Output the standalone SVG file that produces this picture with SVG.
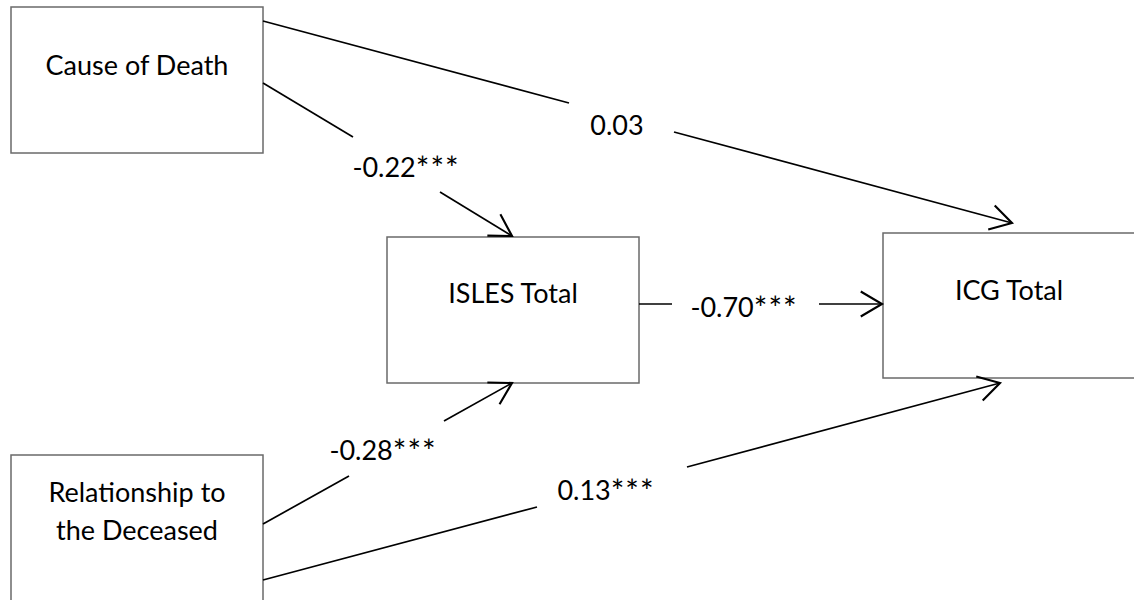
<svg xmlns="http://www.w3.org/2000/svg" width="1134" height="600" viewBox="0 0 1134 600">
<style>
.box{fill:#fff;stroke:#6a6a6a;stroke-width:1.5}
.lbl{font-family:Lato,"Open Sans","Liberation Sans",sans-serif;font-size:27px;fill:#000;text-anchor:middle}
.num{font-family:Lato,"Open Sans","Liberation Sans",sans-serif;font-size:27px;fill:#000;text-anchor:middle}
.ast{font-size:32px;letter-spacing:1px}
.ln{stroke:#000;stroke-width:1.7;fill:none}
</style>
<defs>
<marker id="arr" markerUnits="userSpaceOnUse" markerWidth="30" markerHeight="30" viewBox="-20 -12 24 24" refX="0" refY="0" orient="auto">
<path d="M-17,-10 L0,0 L-17,10" fill="none" stroke="#000" stroke-width="1.7"/>
</marker>
</defs>
<rect width="1134" height="600" fill="#fff"/>
<g id="cause">
<rect class="box" x="11" y="7" width="252" height="146"/>
<text class="lbl" x="137" y="75">Cause of Death</text>
</g>
<g id="isles">
<rect class="box" x="387" y="237" width="252" height="146"/>
<text class="lbl" x="513" y="303">ISLES Total</text>
</g>
<g id="icg">
<rect class="box" x="883" y="233" width="260" height="145"/>
<text class="lbl" x="1009" y="300">ICG Total</text>
</g>
<g id="relationship">
<rect class="box" x="11" y="455" width="252" height="160"/>
<text class="lbl" x="137" y="502">Relationship to</text>
<text class="lbl" x="137" y="540">the Deceased</text>
</g>
<g id="connectors">
<line class="ln" x1="263" y1="21" x2="569" y2="103"/>
<line class="ln" x1="674" y1="132" x2="1012" y2="223" marker-end="url(#arr)"/>
<text class="num" x="617" y="135">0.03</text>
<line class="ln" x1="263" y1="83" x2="353" y2="137"/>
<line class="ln" x1="440" y1="192" x2="512" y2="236" marker-end="url(#arr)"/>
<text class="num" x="406" y="177">-0.22<tspan class="ast" dy="3">***</tspan></text>
<line class="ln" x1="639" y1="304" x2="672" y2="304"/>
<line class="ln" x1="819" y1="304" x2="882" y2="304" marker-end="url(#arr)"/>
<text class="num" x="744" y="317">-0.70<tspan class="ast" dy="3">***</tspan></text>
<line class="ln" x1="263" y1="524" x2="349" y2="476"/>
<line class="ln" x1="444" y1="421" x2="512" y2="383" marker-end="url(#arr)"/>
<text class="num" x="383" y="460">-0.28<tspan class="ast" dy="3">***</tspan></text>
<line class="ln" x1="263" y1="580" x2="537" y2="507"/>
<line class="ln" x1="687" y1="467" x2="1000" y2="383" marker-end="url(#arr)"/>
<text class="num" x="606" y="500">0.13<tspan class="ast" dy="3">***</tspan></text>
</g>
</svg>
